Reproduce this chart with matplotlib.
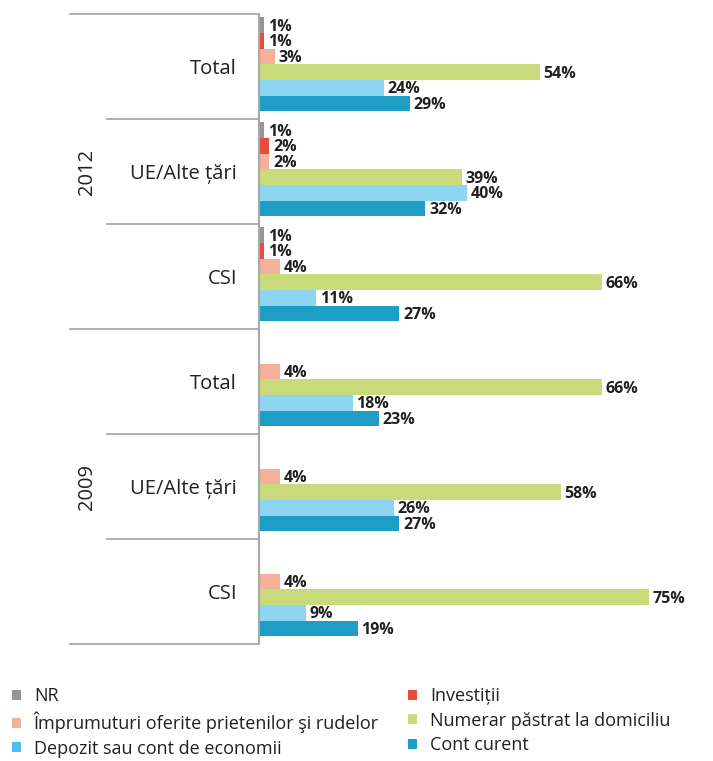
import matplotlib.pyplot as plt
import matplotlib.transforms as mtransforms
from matplotlib.patches import Patch

# grupuri (de sus în jos)
groups = ["Total", "UE/Alte țări", "CSI", "Total", "UE/Alte țări", "CSI"]
years = ["2012", "2009"]

series = [
    "NR",
    "Investiții",
    "Împrumuturi oferite prietenilor şi rudelor",
    "Numerar păstrat la domiciliu",
    "Depozit sau cont de economii",
    "Cont curent",
]
nr = [1, 1, 1, None, None, None]
investitii = [1, 2, 1, None, None, None]
imprumuturi = [3, 2, 4, 4, 4, 4]
numerar = [54, 39, 66, 66, 58, 75]
depozit = [24, 40, 11, 18, 26, 9]
cont_curent = [29, 32, 27, 23, 27, 19]
values = [nr, investitii, imprumuturi, numerar, depozit, cont_curent]

colors = ["#939598", "#E84C3D", "#F4B09A", "#C9DA7A", "#8ED5F2", "#1E9EC6"]
legend_colors = ["#939598", "#E84C3D", "#F4B09A", "#C9DA7A", "#4DBDEB", "#1E9EC6"]

plt.rcParams["font.family"] = ["Open Sans", "DejaVu Sans"]

fig = plt.figure(figsize=(7.13, 7.61), dpi=100)
ax = fig.add_axes([259 / 713, 117 / 761, 454 / 713, 630 / 761])

bar_h = 0.149
top_pad = 0.032
for j, (vals, color) in enumerate(zip(values, colors)):
    for i, v in enumerate(vals):
        if v is None:
            continue
        y = i + top_pad + bar_h * (j + 0.5)
        ax.barh(y, v, height=bar_h, color=color, linewidth=0)
        ax.text(v + 0.7, y + 0.015, f"{v}%", va="center", ha="left",
                fontsize=11.5, fontweight="bold", color="#231F20")

ax.set_ylim(6, 0)
ax.set_xlim(0, 454 / 5.2)

# etichetele categoriilor
ax.set_yticks([i + 0.5 for i in range(len(groups))])
ax.set_yticklabels(groups, fontsize=14.5, color="#231F20")
ax.tick_params(axis="y", length=0, pad=16)
ax.set_xticks([])

for side in ["top", "right", "bottom"]:
    ax.spines[side].set_visible(False)
ax.spines["left"].set_color("#A7A9AC")
ax.spines["left"].set_linewidth(1.5)

# linii de separare în stânga axei
trans = mtransforms.blended_transform_factory(fig.transFigure, ax.transData)
for b in range(7):
    x0 = 70 / 713 if b % 3 == 0 else 107 / 713
    ax.plot([x0, 259 / 713], [b, b], color="#A7A9AC", lw=1.3,
            transform=trans, clip_on=False)

for k, year in enumerate(years):
    ax.text(87 / 713, 3 * k + 1.5, year, transform=trans, rotation=90,
            ha="center", va="center", fontsize=14.5, color="#231F20")

# legenda pe două coloane
handles = [Patch(facecolor=c, edgecolor="none") for c in legend_colors]
for col, x in enumerate([5 / 713, 401 / 713]):
    idx = [col, col + 2, col + 4]
    leg = fig.legend([handles[i] for i in idx], [series[i] for i in idx],
                     loc="upper left", bbox_to_anchor=(x, 81 / 761),
                     frameon=False, fontsize=13,
                     handlelength=0.5, handleheight=0.5, handletextpad=0.7,
                     labelspacing=0.36, labelcolor="#231F20",
                     borderaxespad=0.0)

fig.savefig("out.png", dpi=100)
